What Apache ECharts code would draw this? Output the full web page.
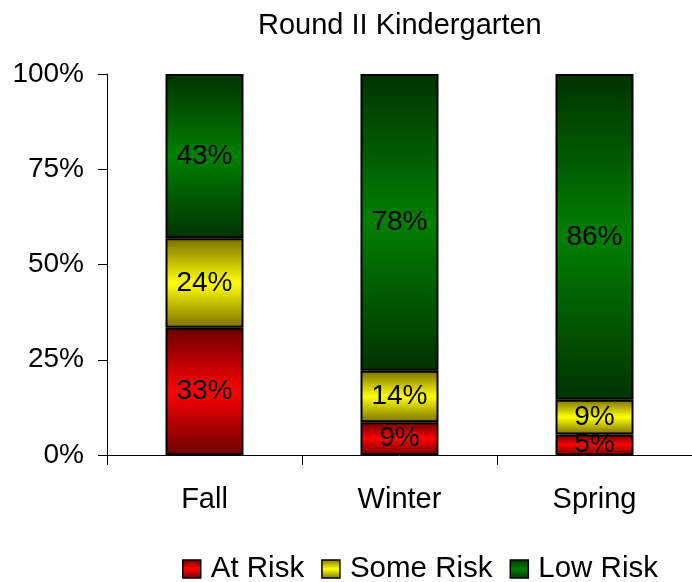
<!DOCTYPE html>
<html>
<head>
<meta charset="utf-8">
<script src="https://cdn.jsdelivr.net/npm/echarts@6/dist/echarts.min.js"></script>
<style>
	html, body { margin: 0; padding: 0; background: #fff; }
	#main { width: 692px; height: 582px; }
</style>
</head>
<body>
<div id="main"></div>
<script>
// 类别 / 数据（百分比，按图读取）
var categories = ['Fall', 'Winter', 'Spring'];
var atRisk = [33.4, 8.6, 5.4];
var someRisk = [23.5, 13.5, 9.1];
var lowRisk = [43.1, 77.9, 85.5];
var yTicks = [0, 25, 50, 75, 100];

var myChart = echarts.init(document.getElementById('main'));

//竖向渐变：上下暗，中间亮
function band(dark, bright) {
	return new echarts.graphic.LinearGradient(0, 0, 0, 1, [
		{ offset: 0, color: dark },
		{ offset: 0.5, color: bright },
		{ offset: 1, color: dark }
	]);
}

var font = 'Liberation Sans, Arial, sans-serif';

function makeSeries(name, data, dark, bright) {
	return {
		name: name,
		type: 'bar',
		stack: 'total',
		barWidth: 78,
		data: data,
		itemStyle: {
			color: band(dark, bright),
			borderColor: '#000',
			borderWidth: 2
		},
		label: {
			show: true,
			position: 'inside',
			color: '#000',
			fontSize: 28,
			fontFamily: font,
			formatter: function(p) {
				return Math.round(p.value) + '%';
			}
		}
	};
}

var option = {
	backgroundColor: '#fff',
	animation: false,
	title: {
		text: 'Round II Kindergarten',
		left: 253,
		top: 6,
		textStyle: {
			color: '#000',
			fontSize: 29,
			fontWeight: 'normal',
			fontFamily: font
		}
	},
	legend: {
		data: ['At Risk', 'Some Risk', 'Low Risk'],
		left: 177,
		top: 549,
		icon: 'rect',
		itemWidth: 18,
		itemHeight: 18,
		itemGap: 17,
		itemStyle: {
			borderColor: '#000',
			borderWidth: 1.5
		},
		textStyle: {
			color: '#000',
			fontSize: 29.5,
			fontFamily: font,
			padding: [0, 0, 0, 5]
		}
	},
	grid: {
		left: 107,
		right: -8,
		top: 74,
		bottom: 127
	},
	xAxis: {
		type: 'category',
		data: categories,
		axisLine: { lineStyle: { color: '#000', width: 1 } },
		axisTick: { show: true, length: 10, lineStyle: { color: '#000' } },
		axisLabel: {
			color: '#000',
			fontSize: 29,
			fontFamily: font,
			margin: 30
		}
	},
	yAxis: {
		type: 'value',
		min: yTicks[0],
		max: yTicks[yTicks.length - 1],
		interval: 25,
		axisLine: { show: true, lineStyle: { color: '#000', width: 1 } },
		axisTick: { show: true, length: 9, lineStyle: { color: '#000' } },
		splitLine: { show: false },
		axisLabel: {
			color: '#000',
			fontSize: 28,
			fontFamily: font,
			margin: 23,
			formatter: '{value}%'
		}
	},
	series: [
		makeSeries('At Risk', atRisk, '#6a0000', '#ff0000'),
		makeSeries('Some Risk', someRisk, '#7a7000', '#ffff00'),
		makeSeries('Low Risk', lowRisk, '#003300', '#008000')
	]
};

myChart.setOption(option);
</script>
</body>
</html>
